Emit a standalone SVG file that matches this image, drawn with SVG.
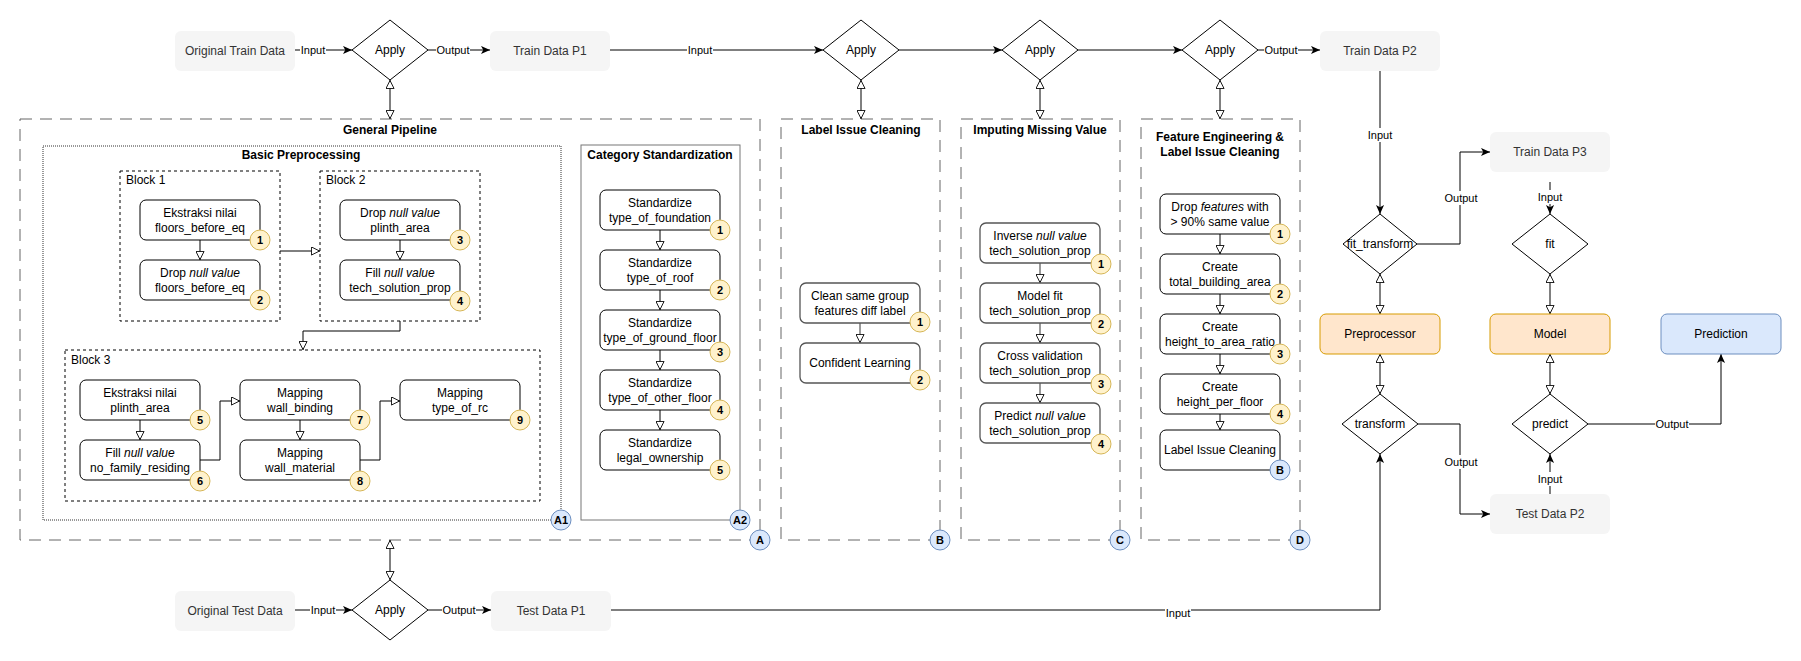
<svg xmlns="http://www.w3.org/2000/svg" width="1801" height="661" viewBox="0 0 1801 661">
<style>
text{font-family:"Liberation Sans",Arial,sans-serif;font-size:12px;fill:#000;text-anchor:middle}
.d{fill:#f5f5f5;stroke:none}
.dt{fill:#333}
.dia{fill:#fff;stroke:#000;stroke-width:1}
.nd{fill:#fff;stroke:#000;stroke-width:1}
.ng{fill:#fff;stroke:#555;stroke-width:1.3}
.or{fill:#ffe6cc;stroke:#d79b00}
.bl{fill:#dae8fc;stroke:#6c8ebf}
.by{fill:#fff2cc;stroke:#d6b656}
.bt{font-size:11px;font-weight:bold}
.h{font-weight:bold}
.el{font-size:11px}
.lb{fill:#fff}
.e{fill:none;stroke:#000;stroke-width:1}
.eg{fill:none;stroke:#555;stroke-width:1.2}
.big{fill:none;stroke:#666;stroke-dasharray:12 8}
.blk{fill:none;stroke:#000;stroke-dasharray:3 3}
.dot{fill:none;stroke:#333;stroke-dasharray:1 1}
.cat{fill:none;stroke:#777}
.l{text-anchor:start}
</style>
<defs>
<marker id="af" viewBox="0 0 10 10" refX="10" refY="5" markerWidth="9" markerHeight="9" markerUnits="userSpaceOnUse" orient="auto"><path d="M0,0.5 L10,5 L0,9.5 L2.5,5 z" fill="#000"/></marker>
<marker id="ao" viewBox="0 0 10 10" refX="10" refY="5" markerWidth="9" markerHeight="9" markerUnits="userSpaceOnUse" orient="auto-start-reverse"><path d="M0.5,0.5 L9.5,5 L0.5,9.5 z" fill="#fff" stroke="#000"/></marker>
</defs>

<!-- containers -->
<g id="general-pipeline">
<rect class="big" x="20" y="119" width="740" height="421"/>
<text class="h" x="390" y="134">General Pipeline</text>
</g>
<g id="basic-preprocessing">
<rect class="dot" x="43" y="146" width="518" height="374"/>
<text class="h" x="301" y="159">Basic Preprocessing</text>
</g>
<g id="block1"><rect class="blk" x="120" y="171" width="160" height="150"/><text class="l" x="126" y="184">Block 1</text></g>
<g id="block2"><rect class="blk" x="320" y="171" width="160" height="150"/><text class="l" x="326" y="184">Block 2</text></g>
<g id="block3"><rect class="blk" x="65" y="350" width="475" height="151"/><text class="l" x="71" y="364">Block 3</text></g>
<g id="category-standardization">
<rect class="cat" x="581" y="145" width="159" height="375"/>
<text class="h" x="660" y="159">Category Standardization</text>
</g>
<g id="label-issue-cleaning">
<rect class="big" x="781" y="119" width="159" height="421"/>
<text class="h" x="861" y="134">Label Issue Cleaning</text>
</g>
<g id="imputing-missing-value">
<rect class="big" x="961" y="119" width="159" height="421"/>
<text class="h" x="1040" y="134">Imputing Missing Value</text>
</g>
<g id="feature-engineering">
<rect class="big" x="1141" y="119" width="159" height="421"/>
<text class="h" x="1220" y="141">Feature Engineering &amp;</text>
<text class="h" x="1220" y="156">Label Issue Cleaning</text>
</g>

<!-- connectors -->
<g id="connectors">
<path class="e" d="M295,50 L352,50" marker-end="url(#af)"/>
<path class="e" d="M428,50 L490,50" marker-end="url(#af)"/>
<path class="e" d="M610,50 L823,50" marker-end="url(#af)"/>
<path class="e" d="M899,50 L1002,50" marker-end="url(#af)"/>
<path class="e" d="M1078,50 L1182,50" marker-end="url(#af)"/>
<path class="e" d="M1258,50 L1320,50" marker-end="url(#af)"/>
<path class="e" d="M390,80 L390,119" marker-start="url(#ao)" marker-end="url(#ao)"/>
<path class="e" d="M861,80 L861,119" marker-start="url(#ao)" marker-end="url(#ao)"/>
<path class="e" d="M1040,80 L1040,119" marker-start="url(#ao)" marker-end="url(#ao)"/>
<path class="e" d="M1220,80 L1220,119" marker-start="url(#ao)" marker-end="url(#ao)"/>
<path class="e" d="M390,540 L390,580" marker-start="url(#ao)" marker-end="url(#ao)"/>
<path class="e" d="M295,610 L352,610" marker-end="url(#af)"/>
<path class="e" d="M428,610 L491,610" marker-end="url(#af)"/>
<path class="e" d="M611,610 L1380,610 L1380,454" marker-end="url(#af)"/>
<!-- right side -->
<path class="e" d="M1380,71 L1380,214" marker-end="url(#af)"/>
<path class="e" d="M1417,244 L1460,244 L1460,152 L1490,152" marker-end="url(#af)"/>
<path class="e" d="M1550,182 L1550,214" marker-end="url(#af)"/>
<path class="e" d="M1380,274 L1380,314" marker-start="url(#ao)" marker-end="url(#ao)"/>
<path class="e" d="M1550,274 L1550,314" marker-start="url(#ao)" marker-end="url(#ao)"/>
<path class="e" d="M1380,354 L1380,394" marker-start="url(#ao)" marker-end="url(#ao)"/>
<path class="e" d="M1550,354 L1550,394" marker-start="url(#ao)" marker-end="url(#ao)"/>
<path class="e" d="M1418,424 L1460,424 L1460,514 L1490,514" marker-end="url(#af)"/>
<path class="e" d="M1550,494 L1550,454" marker-end="url(#af)"/>
<path class="e" d="M1588,424 L1721,424 L1721,354" marker-end="url(#af)"/>
<!-- inner -->
<path class="e" d="M200,240 L200,260" marker-end="url(#ao)"/>
<path class="e" d="M400,240 L400,260" marker-end="url(#ao)"/>
<path class="e" d="M280,251 L320,251" marker-end="url(#ao)"/>
<path class="e" d="M400,321 L400,331 L303,331 L303,350" marker-end="url(#ao)"/>
<path class="e" d="M140,420 L140,440" marker-end="url(#ao)"/>
<path class="e" d="M300,420 L300,440" marker-end="url(#ao)"/>
<path class="e" d="M200,460 L220,460 L220,401 L240,401" marker-end="url(#ao)"/>
<path class="e" d="M360,460 L380,460 L380,401 L400,401" marker-end="url(#ao)"/>
<path class="e" d="M660,230 L660,250" marker-end="url(#ao)"/>
<path class="e" d="M660,290 L660,310" marker-end="url(#ao)"/>
<path class="e" d="M660,350 L660,370" marker-end="url(#ao)"/>
<path class="e" d="M660,410 L660,430" marker-end="url(#ao)"/>
<path class="eg" d="M860,323 L860,343" marker-end="url(#ao)"/>
<path class="eg" d="M1040,263 L1040,283" marker-end="url(#ao)"/>
<path class="eg" d="M1040,323 L1040,343" marker-end="url(#ao)"/>
<path class="eg" d="M1040,383 L1040,403" marker-end="url(#ao)"/>
<path class="e" d="M1220,234 L1220,254" marker-end="url(#ao)"/>
<path class="e" d="M1220,294 L1220,314" marker-end="url(#ao)"/>
<path class="e" d="M1220,354 L1220,374" marker-end="url(#ao)"/>
<path class="e" d="M1220,414 L1220,430" marker-end="url(#ao)"/>
<!-- edge labels -->
<rect class="lb" x="300" y="44" width="26" height="13"/><text class="el" x="313" y="54">Input</text>
<rect class="lb" x="436" y="44" width="34" height="13"/><text class="el" x="453" y="54">Output</text>
<rect class="lb" x="687" y="44" width="26" height="13"/><text class="el" x="700" y="54">Input</text>
<rect class="lb" x="1264" y="44" width="34" height="13"/><text class="el" x="1281" y="54">Output</text>
<rect class="lb" x="310" y="604" width="26" height="13"/><text class="el" x="323" y="614">Input</text>
<rect class="lb" x="442" y="604" width="34" height="13"/><text class="el" x="459" y="614">Output</text>
<rect class="lb" x="1165" y="606" width="26" height="13"/><text class="el" x="1178" y="617">Input</text>
<rect class="lb" x="1367" y="128" width="26" height="14"/><text class="el" x="1380" y="139">Input</text>
<rect class="lb" x="1444" y="191" width="34" height="14"/><text class="el" x="1461" y="202">Output</text>
<rect class="lb" x="1537" y="190" width="26" height="14"/><text class="el" x="1550" y="201">Input</text>
<rect class="lb" x="1444" y="455" width="34" height="14"/><text class="el" x="1461" y="466">Output</text>
<rect class="lb" x="1537" y="472" width="26" height="14"/><text class="el" x="1550" y="483">Input</text>
<rect class="lb" x="1655" y="417" width="34" height="14"/><text class="el" x="1672" y="428">Output</text>
</g>

<!-- data nodes -->
<g id="original-train-data"><rect class="d" x="175" y="31" width="120" height="40" rx="6"/><text class="dt" x="235" y="55">Original Train Data</text></g>
<g id="apply1"><polygon class="dia" points="390,20 428,50 390,80 352,50"/><text x="390" y="54">Apply</text></g>
<g id="train-data-p1"><rect class="d" x="490" y="31" width="120" height="40" rx="6"/><text class="dt" x="550" y="55">Train Data P1</text></g>
<g id="apply2"><polygon class="dia" points="861,20 899,50 861,80 823,50"/><text x="861" y="54">Apply</text></g>
<g id="apply3"><polygon class="dia" points="1040,20 1078,50 1040,80 1002,50"/><text x="1040" y="54">Apply</text></g>
<g id="apply4"><polygon class="dia" points="1220,20 1258,50 1220,80 1182,50"/><text x="1220" y="54">Apply</text></g>
<g id="train-data-p2"><rect class="d" x="1320" y="31" width="120" height="40" rx="6"/><text class="dt" x="1380" y="55">Train Data P2</text></g>
<g id="original-test-data"><rect class="d" x="175" y="591" width="120" height="40" rx="6"/><text class="dt" x="235" y="615">Original Test Data</text></g>
<g id="apply5"><polygon class="dia" points="390,580 428,610 390,640 352,610"/><text x="390" y="614">Apply</text></g>
<g id="test-data-p1"><rect class="d" x="491" y="591" width="120" height="40" rx="6"/><text class="dt" x="551" y="615">Test Data P1</text></g>
<g id="fit-transform"><polygon class="dia" points="1380,214 1417,244 1380,274 1343,244"/><text x="1380" y="248">fit_transform</text></g>
<g id="train-data-p3"><rect class="d" x="1490" y="132" width="120" height="40" rx="6"/><text class="dt" x="1550" y="156">Train Data P3</text></g>
<g id="fit"><polygon class="dia" points="1550,214 1588,244 1550,274 1512,244"/><text x="1550" y="248">fit</text></g>
<g id="preprocessor"><rect class="or" x="1320" y="314" width="120" height="40" rx="6"/><text x="1380" y="338">Preprocessor</text></g>
<g id="model"><rect class="or" x="1490" y="314" width="120" height="40" rx="6"/><text x="1550" y="338">Model</text></g>
<g id="prediction"><rect class="bl" x="1661" y="314" width="120" height="40" rx="6"/><text x="1721" y="338">Prediction</text></g>
<g id="transform"><polygon class="dia" points="1380,394 1418,424 1380,454 1342,424"/><text x="1380" y="428">transform</text></g>
<g id="predict"><polygon class="dia" points="1550,394 1588,424 1550,454 1512,424"/><text x="1550" y="428">predict</text></g>
<g id="test-data-p2"><rect class="d" x="1490" y="494" width="120" height="40" rx="6"/><text class="dt" x="1550" y="518">Test Data P2</text></g>

<!-- basic preprocessing nodes -->
<g id="bp1"><rect class="nd" x="140" y="200" width="120" height="40" rx="6"/><text x="200" y="216.5">Ekstraksi nilai</text><text x="200" y="231.5">floors_before_eq</text><circle class="by" cx="260" cy="240" r="10"/><text class="bt" x="260" y="244">1</text></g>
<g id="bp2"><rect class="nd" x="140" y="260" width="120" height="40" rx="6"/><text x="200" y="276.5">Drop <tspan font-style="italic">null value</tspan></text><text x="200" y="291.5">floors_before_eq</text><circle class="by" cx="260" cy="300" r="10"/><text class="bt" x="260" y="304">2</text></g>
<g id="bp3"><rect class="nd" x="340" y="200" width="120" height="40" rx="6"/><text x="400" y="216.5">Drop <tspan font-style="italic">null value</tspan></text><text x="400" y="231.5">plinth_area</text><circle class="by" cx="460" cy="240" r="10"/><text class="bt" x="460" y="244">3</text></g>
<g id="bp4"><rect class="nd" x="340" y="260" width="120" height="40" rx="6"/><text x="400" y="276.5">Fill <tspan font-style="italic">null value</tspan></text><text x="400" y="291.5">tech_solution_prop</text><circle class="by" cx="460" cy="301" r="10"/><text class="bt" x="460" y="305">4</text></g>
<g id="bp5"><rect class="nd" x="80" y="380" width="120" height="40" rx="6"/><text x="140" y="396.5">Ekstraksi nilai</text><text x="140" y="411.5">plinth_area</text><circle class="by" cx="200" cy="420" r="10"/><text class="bt" x="200" y="424">5</text></g>
<g id="bp6"><rect class="nd" x="80" y="440" width="120" height="40" rx="6"/><text x="140" y="456.5">Fill <tspan font-style="italic">null value</tspan></text><text x="140" y="471.5">no_family_residing</text><circle class="by" cx="200" cy="481" r="10"/><text class="bt" x="200" y="485">6</text></g>
<g id="bp7"><rect class="nd" x="240" y="380" width="120" height="40" rx="6"/><text x="300" y="396.5">Mapping</text><text x="300" y="411.5">wall_binding</text><circle class="by" cx="360" cy="420" r="10"/><text class="bt" x="360" y="424">7</text></g>
<g id="bp8"><rect class="nd" x="240" y="440" width="120" height="40" rx="6"/><text x="300" y="456.5">Mapping</text><text x="300" y="471.5">wall_material</text><circle class="by" cx="360" cy="481" r="10"/><text class="bt" x="360" y="485">8</text></g>
<g id="bp9"><rect class="nd" x="400" y="380" width="120" height="40" rx="6"/><text x="460" y="396.5">Mapping</text><text x="460" y="411.5">type_of_rc</text><circle class="by" cx="520" cy="420" r="10"/><text class="bt" x="520" y="424">9</text></g>

<!-- category standardization nodes -->
<g id="cs1"><rect class="nd" x="600" y="190" width="120" height="40" rx="6"/><text x="660" y="206.5">Standardize</text><text x="660" y="221.5">type_of_foundation</text><circle class="by" cx="720" cy="230" r="10"/><text class="bt" x="720" y="234">1</text></g>
<g id="cs2"><rect class="nd" x="600" y="250" width="120" height="40" rx="6"/><text x="660" y="266.5">Standardize</text><text x="660" y="281.5">type_of_roof</text><circle class="by" cx="720" cy="290" r="10"/><text class="bt" x="720" y="294">2</text></g>
<g id="cs3"><rect class="nd" x="600" y="310" width="120" height="40" rx="6"/><text x="660" y="326.5">Standardize</text><text x="660" y="341.5">type_of_ground_floor</text><circle class="by" cx="720" cy="352" r="10"/><text class="bt" x="720" y="356">3</text></g>
<g id="cs4"><rect class="nd" x="600" y="370" width="120" height="40" rx="6"/><text x="660" y="386.5">Standardize</text><text x="660" y="401.5">type_of_other_floor</text><circle class="by" cx="720" cy="410" r="10"/><text class="bt" x="720" y="414">4</text></g>
<g id="cs5"><rect class="nd" x="600" y="430" width="120" height="40" rx="6"/><text x="660" y="446.5">Standardize</text><text x="660" y="461.5">legal_ownership</text><circle class="by" cx="720" cy="470" r="10"/><text class="bt" x="720" y="474">5</text></g>

<!-- label issue cleaning nodes -->
<g id="lic1"><rect class="ng" x="800" y="283" width="120" height="40" rx="6"/><text x="860" y="299.5">Clean same group</text><text x="860" y="314.5">features diff label</text><circle class="by" cx="920" cy="322" r="10"/><text class="bt" x="920" y="326">1</text></g>
<g id="lic2"><rect class="ng" x="800" y="343" width="120" height="40" rx="6"/><text x="860" y="367">Confident Learning</text><circle class="by" cx="920" cy="380" r="10"/><text class="bt" x="920" y="384">2</text></g>

<!-- imputing nodes -->
<g id="imv1"><rect class="ng" x="980" y="223" width="120" height="40" rx="6"/><text x="1040" y="239.5">Inverse <tspan font-style="italic">null value</tspan></text><text x="1040" y="254.5">tech_solution_prop</text><circle class="by" cx="1101" cy="264" r="10"/><text class="bt" x="1101" y="268">1</text></g>
<g id="imv2"><rect class="ng" x="980" y="283" width="120" height="40" rx="6"/><text x="1040" y="299.5">Model fit</text><text x="1040" y="314.5">tech_solution_prop</text><circle class="by" cx="1101" cy="324" r="10"/><text class="bt" x="1101" y="328">2</text></g>
<g id="imv3"><rect class="ng" x="980" y="343" width="120" height="40" rx="6"/><text x="1040" y="359.5">Cross validation</text><text x="1040" y="374.5">tech_solution_prop</text><circle class="by" cx="1101" cy="384" r="10"/><text class="bt" x="1101" y="388">3</text></g>
<g id="imv4"><rect class="ng" x="980" y="403" width="120" height="40" rx="6"/><text x="1040" y="419.5">Predict <tspan font-style="italic">null value</tspan></text><text x="1040" y="434.5">tech_solution_prop</text><circle class="by" cx="1101" cy="444" r="10"/><text class="bt" x="1101" y="448">4</text></g>

<!-- feature engineering nodes -->
<g id="fe1"><rect class="nd" x="1160" y="194" width="120" height="40" rx="6"/><text x="1220" y="210.5">Drop <tspan font-style="italic">features</tspan> with</text><text x="1220" y="225.5">&gt; 90% same value</text><circle class="by" cx="1280" cy="234" r="10"/><text class="bt" x="1280" y="238">1</text></g>
<g id="fe2"><rect class="nd" x="1160" y="254" width="120" height="40" rx="6"/><text x="1220" y="270.5">Create</text><text x="1220" y="285.5">total_building_area</text><circle class="by" cx="1280" cy="294" r="10"/><text class="bt" x="1280" y="298">2</text></g>
<g id="fe3"><rect class="nd" x="1160" y="314" width="120" height="40" rx="6"/><text x="1220" y="330.5">Create</text><text x="1220" y="345.5">height_to_area_ratio</text><circle class="by" cx="1280" cy="354" r="10"/><text class="bt" x="1280" y="358">3</text></g>
<g id="fe4"><rect class="nd" x="1160" y="374" width="120" height="40" rx="6"/><text x="1220" y="390.5">Create</text><text x="1220" y="405.5">height_per_floor</text><circle class="by" cx="1280" cy="414" r="10"/><text class="bt" x="1280" y="418">4</text></g>
<g id="fe5"><rect class="nd" x="1160" y="430" width="120" height="40" rx="6"/><text x="1220" y="454">Label Issue Cleaning</text><circle class="bl" cx="1280" cy="470" r="10"/><text class="bt" x="1280" y="474">B</text></g>

<!-- container badges -->
<g id="badges">
<circle class="bl" cx="561" cy="520" r="10"/><text class="bt" x="561" y="524">A1</text>
<circle class="bl" cx="740" cy="520" r="10"/><text class="bt" x="740" y="524">A2</text>
<circle class="bl" cx="760" cy="540" r="10"/><text class="bt" x="760" y="544">A</text>
<circle class="bl" cx="940" cy="540" r="10"/><text class="bt" x="940" y="544">B</text>
<circle class="bl" cx="1120" cy="540" r="10"/><text class="bt" x="1120" y="544">C</text>
<circle class="bl" cx="1300" cy="540" r="10"/><text class="bt" x="1300" y="544">D</text>
</g>
</svg>
